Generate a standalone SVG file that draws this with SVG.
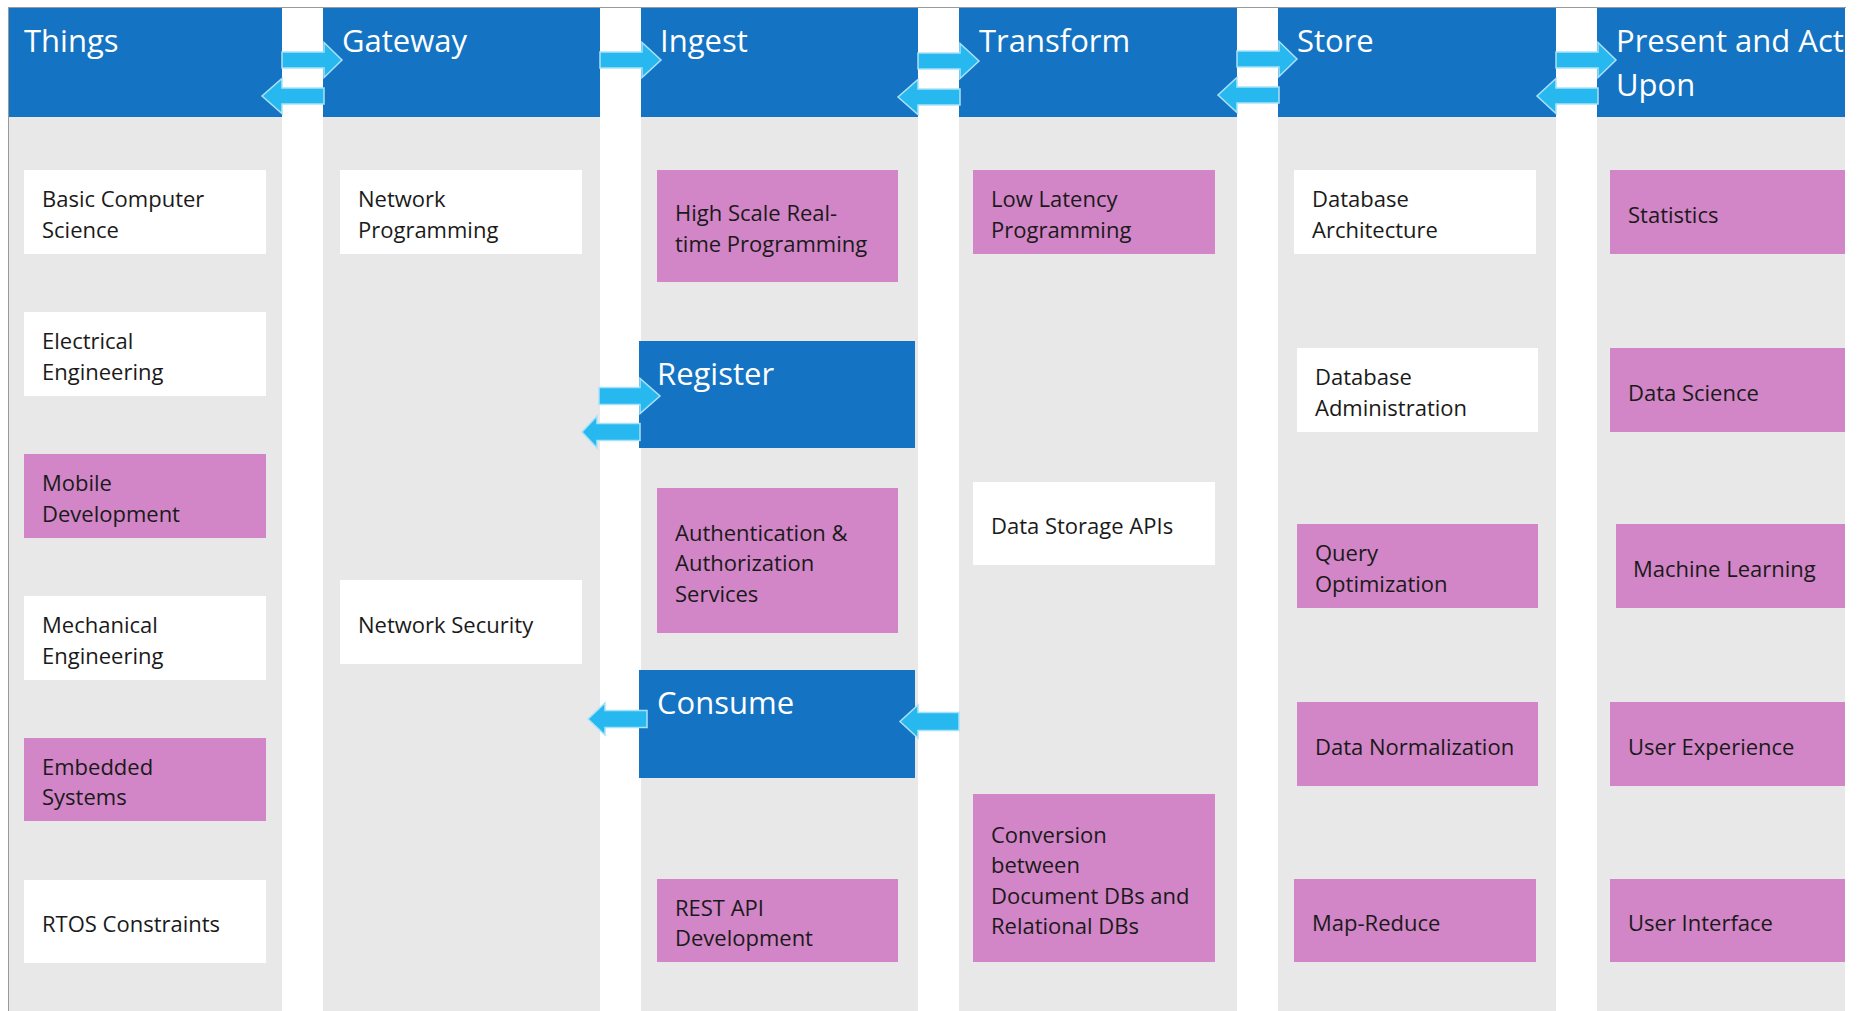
<svg xmlns="http://www.w3.org/2000/svg" width="1869" height="1011" viewBox="0 0 1869 1011">
<style>
.col{fill:#E8E8E8}
.hdr{fill:#1473C3}
.ht{font-family:"Open Sans",sans-serif;font-size:31px;fill:#FFFFFF}
.w{fill:#FFFFFF}
.p{fill:#D285C7}
.bt{font-family:"Open Sans",sans-serif;font-size:22px;fill:#1A1A1A}
.arr{fill:#26B8EE;stroke:#A9E2F8;stroke-width:1.5;stroke-linejoin:miter}
.frame{stroke:#9A9A9A;stroke-width:1;fill:none}
</style>
<defs>
<clipPath id="presClip"><rect x="1597" y="8" width="248" height="110"/></clipPath>
</defs>
<rect x="0" y="0" width="1869" height="1011" fill="#FFFFFF"/>

<g id="columns">
<rect class="col" x="9" y="8" width="273" height="1003"/>
<rect class="col" x="323" y="8" width="277" height="1003"/>
<rect class="col" x="641" y="8" width="277" height="1003"/>
<rect class="col" x="959" y="8" width="278" height="1003"/>
<rect class="col" x="1278" y="8" width="278" height="1003"/>
<rect class="col" x="1597" y="8" width="248" height="1003"/>
<line class="frame" x1="8" y1="7.5" x2="1846" y2="7.5"/>
<line class="frame" x1="8.5" y1="7" x2="8.5" y2="1011"/>
</g>

<g id="hdr-things"><rect class="hdr" x="9" y="8" width="273" height="109"/><text class="ht" x="24" y="52">Things</text></g>
<g id="hdr-gateway"><rect class="hdr" x="323" y="8" width="277" height="109"/><text class="ht" x="342" y="52">Gateway</text></g>
<g id="hdr-ingest"><rect class="hdr" x="641" y="8" width="277" height="109"/><text class="ht" x="660" y="52">Ingest</text></g>
<g id="hdr-transform"><rect class="hdr" x="959" y="8" width="278" height="109"/><text class="ht" x="979" y="52">Transform</text></g>
<g id="hdr-store"><rect class="hdr" x="1278" y="8" width="278" height="109"/><text class="ht" x="1297" y="52">Store</text></g>
<g id="hdr-present"><rect class="hdr" x="1597" y="8" width="248" height="109"/><g clip-path="url(#presClip)"><text class="ht" x="1616" y="52">Present and Act</text><text class="ht" x="1616" y="96">Upon</text></g></g>

<g id="n-basic-cs"><rect class="w" x="24" y="170" width="242" height="84"/><text class="bt" x="42" y="207">Basic Computer</text><text class="bt" x="42" y="238">Science</text></g>
<g id="n-electrical"><rect class="w" x="24" y="312" width="242" height="84"/><text class="bt" x="42" y="349">Electrical</text><text class="bt" x="42" y="380">Engineering</text></g>
<g id="n-mobile"><rect class="p" x="24" y="454" width="242" height="84"/><text class="bt" x="42" y="491">Mobile</text><text class="bt" x="42" y="522">Development</text></g>
<g id="n-mechanical"><rect class="w" x="24" y="596" width="242" height="84"/><text class="bt" x="42" y="633">Mechanical</text><text class="bt" x="42" y="664">Engineering</text></g>
<g id="n-embedded"><rect class="p" x="24" y="738" width="242" height="83"/><text class="bt" x="42" y="775">Embedded</text><text class="bt" x="42" y="805">Systems</text></g>
<g id="n-rtos"><rect class="w" x="24" y="880" width="242" height="83"/><text class="bt" x="42" y="932">RTOS Constraints</text></g>

<g id="n-netprog"><rect class="w" x="340" y="170" width="242" height="84"/><text class="bt" x="358" y="207">Network</text><text class="bt" x="358" y="238">Programming</text></g>
<g id="n-netsec"><rect class="w" x="340" y="580" width="242" height="84"/><text class="bt" x="358" y="632.5">Network Security</text></g>

<g id="n-highscale"><rect class="p" x="657" y="170" width="241" height="112"/><text class="bt" x="675" y="221">High Scale Real-</text><text class="bt" x="675" y="252">time Programming</text></g>
<g id="n-register"><rect class="hdr" x="639" y="341" width="276" height="107"/><text class="ht" x="657" y="385">Register</text></g>
<g id="n-auth"><rect class="p" x="657" y="488" width="241" height="145"/><text class="bt" x="675" y="540.5">Authentication &amp;</text><text class="bt" x="675" y="571">Authorization</text><text class="bt" x="675" y="601.5">Services</text></g>
<g id="n-consume"><rect class="hdr" x="639" y="670" width="276" height="108"/><text class="ht" x="657" y="714">Consume</text></g>
<g id="n-rest"><rect class="p" x="657" y="879" width="241" height="83"/><text class="bt" x="675" y="916">REST API</text><text class="bt" x="675" y="946">Development</text></g>

<g id="n-lowlat"><rect class="p" x="973" y="170" width="242" height="84"/><text class="bt" x="991" y="207">Low Latency</text><text class="bt" x="991" y="238">Programming</text></g>
<g id="n-storageapi"><rect class="w" x="973" y="482" width="242" height="83"/><text class="bt" x="991" y="534">Data Storage APIs</text></g>
<g id="n-conversion"><rect class="p" x="973" y="794" width="242" height="168"/><text class="bt" x="991" y="843">Conversion</text><text class="bt" x="991" y="873">between</text><text class="bt" x="991" y="904">Document DBs and</text><text class="bt" x="991" y="934">Relational DBs</text></g>

<g id="n-dbarch"><rect class="w" x="1294" y="170" width="242" height="84"/><text class="bt" x="1312" y="207">Database</text><text class="bt" x="1312" y="238">Architecture</text></g>
<g id="n-dbadmin"><rect class="w" x="1297" y="348" width="241" height="84"/><text class="bt" x="1315" y="385">Database</text><text class="bt" x="1315" y="416">Administration</text></g>
<g id="n-query"><rect class="p" x="1297" y="524" width="241" height="84"/><text class="bt" x="1315" y="561">Query</text><text class="bt" x="1315" y="592">Optimization</text></g>
<g id="n-normal"><rect class="p" x="1297" y="702" width="241" height="84"/><text class="bt" x="1315" y="754.5">Data Normalization</text></g>
<g id="n-mapreduce"><rect class="p" x="1294" y="879" width="242" height="83"/><text class="bt" x="1312" y="931">Map-Reduce</text></g>

<g id="n-stats"><rect class="p" x="1610" y="170" width="235" height="84"/><text class="bt" x="1628" y="222.5">Statistics</text></g>
<g id="n-datasci"><rect class="p" x="1610" y="348" width="235" height="84"/><text class="bt" x="1628" y="400.5">Data Science</text></g>
<g id="n-ml"><rect class="p" x="1616" y="524" width="229" height="84"/><text class="bt" x="1633" y="576.5">Machine Learning</text></g>
<g id="n-ux"><rect class="p" x="1610" y="702" width="235" height="84"/><text class="bt" x="1628" y="754.5">User Experience</text></g>
<g id="n-ui"><rect class="p" x="1610" y="879" width="235" height="83"/><text class="bt" x="1628" y="931">User Interface</text></g>

<g id="connectors">
<polygon class="arr" points="282,52 324,52 324,42.5 342,60 324,77.5 324,68 282,68"/>
<polygon class="arr" points="324,88 282,88 282,78.5 262,96 282,113.5 282,104 324,104"/>
<polygon class="arr" points="600,52 642,52 642,42.5 661,60 642,77.5 642,68 600,68"/>
<polygon class="arr" points="918,53 960,53 960,43.5 979,61 960,78.5 960,69 918,69"/>
<polygon class="arr" points="960,89 918,89 918,79.5 898,97 918,114.5 918,105 960,105"/>
<polygon class="arr" points="1237,51 1279,51 1279,41.5 1297,59 1279,76.5 1279,67 1237,67"/>
<polygon class="arr" points="1279,87 1237,87 1237,77.5 1218,95 1237,112.5 1237,103 1279,103"/>
<polygon class="arr" points="1556,52 1598,52 1598,42.5 1616,60 1598,77.5 1598,68 1556,68"/>
<polygon class="arr" points="1598,88 1556,88 1556,78.5 1537,96 1556,113.5 1556,104 1598,104"/>
<polygon class="arr" points="599,387.5 640,387.5 640,378.5 660,396 640,413.5 640,404.5 599,404.5"/>
<polygon class="arr" points="640,423.5 597,423.5 597,416 582,432 597,448 597,440.5 640,440.5"/>
<polygon class="arr" points="647,710.5 605,710.5 605,703 588,719 605,735 605,727.5 647,727.5"/>
<polygon class="arr" points="959,712.5 918,712.5 918,705 900,721.5 918,738 918,730.5 959,730.5"/>
</g>
</svg>
